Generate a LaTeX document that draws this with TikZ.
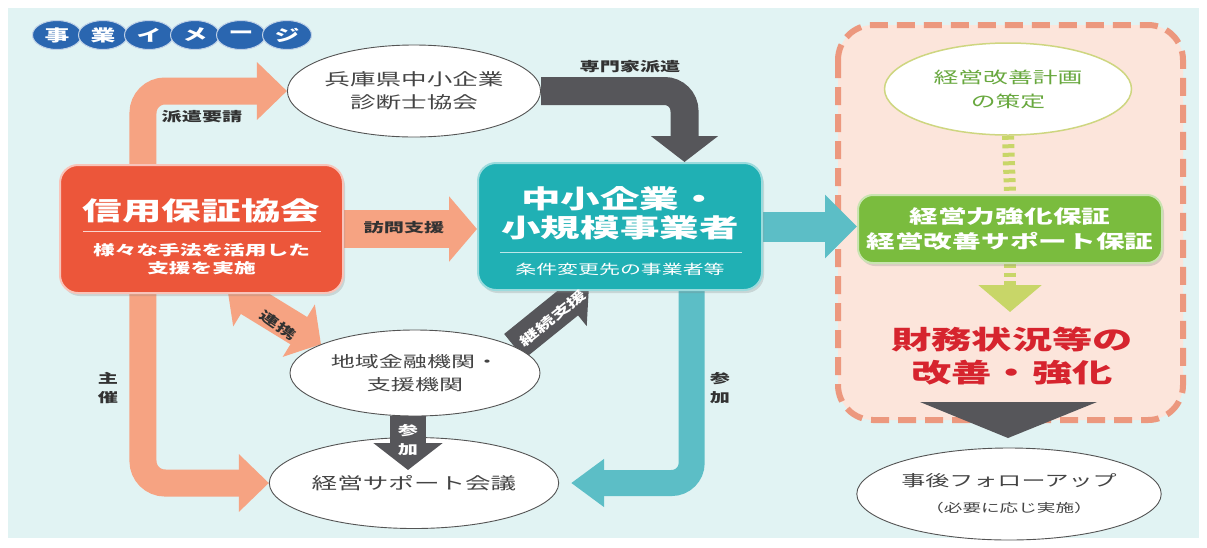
\documentclass[tikz,border=0pt]{standalone}
\usepackage{fontspec}
\setmainfont{Noto Sans CJK JP}[FakeStretch=1.55]
\usetikzlibrary{arrows.meta,shapes.geometric,shadows}
\pgfdeclarelayer{bg}
\pgfdeclarelayer{back}
\pgfsetlayers{bg,back,main}
\newcommand{\jpsize}[2]{\fontsize{#1}{#2}\selectfont}
\definecolor{bgcyan}{RGB}{225,243,243}
\definecolor{salmon}{RGB}{246,163,130}
\definecolor{cgcred}{RGB}{236,86,58}
\definecolor{bizteal}{RGB}{32,176,180}
\definecolor{tealarrowc}{RGB}{92,190,198}
\definecolor{arrowgrey}{RGB}{86,86,90}
\definecolor{guargreen}{RGB}{122,188,62}
\definecolor{greendash}{RGB}{200,214,104}
\definecolor{planline}{RGB}{206,214,128}
\definecolor{plantext}{RGB}{104,168,62}
\definecolor{panelpink}{RGB}{252,229,219}
\definecolor{panelline}{RGB}{236,152,126}
\definecolor{resultred}{RGB}{214,36,46}
\definecolor{titleblue}{RGB}{42,102,176}
\definecolor{ovalline}{RGB}{84,84,84}
\definecolor{ovaltext}{RGB}{68,68,68}
\definecolor{labelgrey}{RGB}{50,50,50}

\begin{document}
\begin{tikzpicture}[x=1pt,y=-1pt,
  bubble/.style={ellipse, draw=ovalline, fill=white, line width=0.9pt, inner sep=0pt, align=center, text=ovaltext},
  boxshadow/.style={drop shadow={opacity=0.25, shadow xshift=2pt, shadow yshift=-3pt}},
  lbl/.style={font=\jpsize{13}{18}\bfseries, text=labelgrey, align=center, inner sep=1pt},
  titledot/.style={ellipse, fill=titleblue, draw=white!70!titleblue, line width=1pt, minimum width=49pt, minimum height=29pt, inner sep=0pt, text=white, font=\jpsize{16}{16}\bfseries},
  salmonarrow/.style={draw=salmon, line width=27pt, rounded corners=22pt, -{Triangle[width=56pt,length=30pt]}},
  greyarrow/.style={draw=arrowgrey, line width=28pt, rounded corners=20pt, -{Triangle[width=66pt,length=26pt]}},
  tealarrow/.style={draw=tealarrowc, line width=30pt, rounded corners=20pt, -{Triangle[width=62pt,length=32pt]}},
  greendashed/.style={draw=greendash, line width=12pt, dash pattern=on 4pt off 4.5pt}]
\useasboundingbox (0,0) rectangle (1207,547);
\begin{pgfonlayer}{bg}
\fill[bgcyan] (8,8) rectangle (1199,538);
\draw[panelline, fill=panelpink, line width=6pt, dash pattern=on 18pt off 9pt, rounded corners=35pt] (838,25) rectangle (1183,420);
\end{pgfonlayer}

\foreach \ch [count=\i] in {事,業,イ,メ,ー,ジ}
  \node[titledot] (title\i) at ({57+46*(\i-1)},35) {\ch};

% left and middle
\node[bubble, minimum width=252pt, minimum height=92pt, font=\jpsize{16.5}{23}] (diag) at (414,91) {兵庫県中小企業\\診断士協会};
\node[rectangle, rounded corners=18pt, fill=cgcred, draw=white!65!cgcred, line width=2pt, minimum width=283pt, minimum height=128pt, boxshadow] (cgc) at (201.5,229) {};
\node[font=\jpsize{25.5}{28}\bfseries, text=white] (cgcname) at (201.5,211) {信用保証協会};
\draw[white!75!cgcred, line width=1pt] (83,231) -- (321,231);
\node[font=\jpsize{14}{18}\bfseries, text=white, align=center] (cgcnote) at (201.5,259) {様々な手法を活用した\\支援を実施};
\node[rectangle, rounded corners=18pt, fill=bizteal, draw=white!55!bizteal, line width=2pt, minimum width=284pt, minimum height=127pt, boxshadow] (biz) at (620,226.5) {};
\node[font=\jpsize{25.5}{29}\bfseries, text=white, align=center] (bizname) at (620,213) {中小企業・\\小規模事業者};
\draw[white!70!bizteal, line width=1pt] (500,252) -- (742,252);
\node[font=\jpsize{13.5}{16}, text=white] (biznote) at (620,269) {条件変更先の事業者等};
\node[bubble, minimum width=250pt, minimum height=86pt, font=\jpsize{15.5}{23}] (region) at (415,373) {地域金融機関・\\支援機関};
\node[bubble, minimum width=248pt, minimum height=91pt, font=\jpsize{16.5}{22}] (meet) at (414,483) {経営サポート会議};

% right panel
\node[bubble, draw=planline, line width=1.5pt, minimum width=247pt, minimum height=92pt, text=plantext, font=\jpsize{16}{24}] (plan) at (1008,89) {経営改善計画\\の策定};
\node[rectangle, rounded corners=15pt, fill=guargreen, draw=white!60!guargreen, line width=2pt, minimum width=304pt, minimum height=68pt, text=white, align=center, font=\jpsize{18.5}{25}\bfseries, boxshadow] (guar) at (1010,229) {経営力強化保証\\経営改善サポート保証};
\node[text=resultred, align=center, font=\jpsize{26}{33}\bfseries] (result) at (1012,356) {財務状況等の\\改善・強化};
\node[bubble, minimum width=252pt, minimum height=92pt, font=\jpsize{15.5}{26}] (follow) at (1009,494) {事後フォローアップ\\{\jpsize{12}{16}（必要に応じ実施）}};
\coordinate (gtip) at (1010,312);
\coordinate (jtip) at (408,470);

\begin{pgfonlayer}{back}
\draw[salmonarrow] (cgc.132) |- (diag.west);
\draw[salmonarrow] (cgc.-132) |- (meet.west);
\draw[salmonarrow, line width=38pt, -{Triangle[width=64pt,length=28pt]}] (cgc.east) -- (cgc.east -| biz.west);
\draw[salmonarrow, line width=32pt, {Triangle[width=60pt,length=26pt]}-{Triangle[width=60pt,length=26pt]}, shorten <=-14pt] (cgc.-60) -- (region.163);
\draw[greyarrow] (diag.east) -| (biz.45);
\draw[greyarrow, line width=32pt, -{Triangle[width=58pt,length=27pt]}, shorten >=-8pt] (region.15) -- (biz.-120);
\draw[tealarrow] (biz.east) -- (biz.east -| guar.west);
\draw[tealarrow, line width=26pt, -{Triangle[width=46pt,length=33pt]}, shorten >=12pt] (biz.-42) |- (meet.east);
\draw[greendashed] (plan.south) -- (guar.north);
\draw[greendashed, -{Triangle[width=62pt,length=27pt]}] (guar.south) -- (gtip);
\end{pgfonlayer}
\draw[greyarrow, line width=36pt, -{Triangle[width=68pt,length=27pt]}] (region.south -| jtip) -- (jtip);
\fill[arrowgrey] (920,402) -- (1097,402) -- (1008,438) -- cycle;

% labels
\node[lbl] (lblreq) at (202,117) {派遣要請};
\node[lbl] (lblsend) at (630,67) {専門家派遣};
\node[lbl] (lblvisit) at (404,228) {訪問支援};
\node[lbl, rotate=-35] (lbllink) at (278,325) {連携};
\node[lbl, text=white, rotate=39] (lblcont) at (553,318) {継続支援};
\node[lbl, text=white, font=\jpsize{13}{19}\bfseries] (lbljoin) at (408,440) {参\\加};
\node[lbl, font=\jpsize{13}{19}\bfseries] (lblhost) at (108,388) {主\\催};
\node[lbl, font=\jpsize{13}{19}\bfseries] (lbljoinb) at (720,388) {参\\加};
\end{tikzpicture}
\end{document}
